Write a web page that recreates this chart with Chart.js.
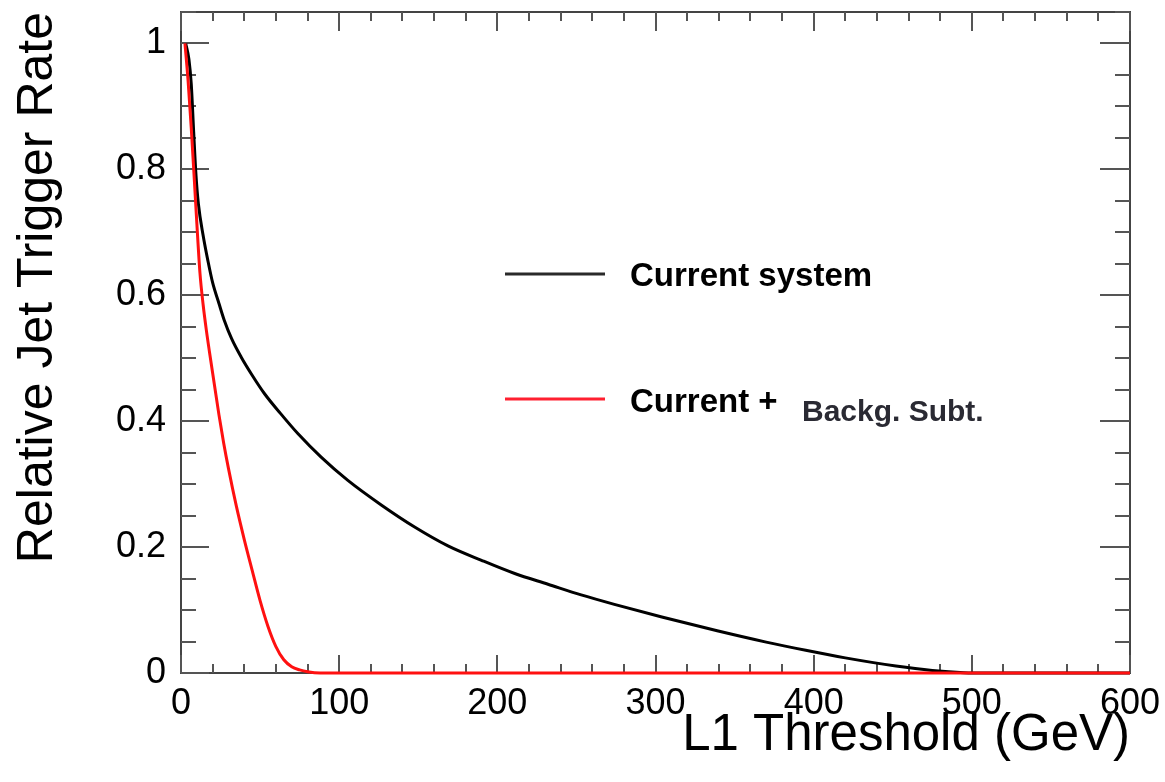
<!DOCTYPE html>
<html>
<head>
<meta charset="utf-8">
<script src="https://cdn.jsdelivr.net/npm/chart.js@4/dist/chart.umd.min.js"></script>
<style>
  html, body { margin: 0; padding: 0; background: #ffffff; }
  #wrap { width: 1165px; height: 782px; }
</style>
</head>
<body>
<div id="wrap"><canvas id="c" width="1165" height="782"></canvas></div>
<script>
// ---- data ----
const currentX = [3, 5, 6.5, 8, 9.5, 11, 14, 17, 20, 24, 27.4, 32, 38, 45, 52.7, 63, 74, 88.6, 105.5, 126.6, 147.7, 168.8, 190, 211, 232, 253, 274, 304, 339, 370, 395, 420, 452, 475, 495, 510, 600];
const currentY = [1.0, 0.975, 0.935, 0.86, 0.79, 0.745, 0.695, 0.655, 0.62, 0.587, 0.56, 0.531, 0.502, 0.473, 0.444, 0.412, 0.38, 0.343, 0.306, 0.267, 0.232, 0.202, 0.179, 0.158, 0.141, 0.124, 0.109, 0.089, 0.067, 0.049, 0.036, 0.024, 0.011, 0.004, 0.0005, 0, 0];
const bkgSubX = [2.5, 4.5, 6.5, 8.5, 10, 12, 14, 16, 18, 21, 24, 27, 30, 35, 40, 45, 50, 55, 60, 65, 70, 75, 80, 88, 600];
const bkgSubY = [1.0, 0.94, 0.865, 0.78, 0.715, 0.635, 0.585, 0.545, 0.51, 0.46, 0.41, 0.365, 0.325, 0.265, 0.212, 0.163, 0.115, 0.074, 0.042, 0.021, 0.01, 0.005, 0.002, 0, 0];
const xTickLabels = [0, 100, 200, 300, 400, 500, 600];
const yTickLabels = [0, 0.2, 0.4, 0.6, 0.8, 1];
const seriesNames = ['Current system', 'Current +', 'Backg. Subt.'];
const xTitle = 'L1 Threshold (GeV)';
const yTitle = 'Relative Jet Trigger Rate';

const FONT = '"Liberation Sans", Arial, Helvetica, sans-serif';

function pts(xs, ys) { return xs.map((x, i) => ({ x: x, y: ys[i] })); }

const framePlugin = {
  id: 'frameTicks',
  beforeDatasetsDraw(chart) {
    const { ctx, chartArea: a, scales } = chart;
    const sx = scales.x, sy = scales.y;
    ctx.save();
    ctx.strokeStyle = '#444444';
    ctx.lineWidth = 2;
    ctx.strokeRect(a.left, a.top, a.right - a.left, a.bottom - a.top);
    ctx.strokeStyle = '#555555';
    ctx.lineWidth = 2;
    for (let v = 0; v <= 600; v += 20) {
      const px = Math.round(sx.getPixelForValue(v));
      const major = (v % 100 === 0);
      const lb = major ? 18 : 9, lt = major ? 19 : 9;
      ctx.beginPath();
      ctx.moveTo(px, a.bottom); ctx.lineTo(px, a.bottom - lb);
      ctx.moveTo(px, a.top); ctx.lineTo(px, a.top + lt);
      ctx.stroke();
    }
    for (let k = 0; k <= 21; k++) {
      const v = k * 0.05;
      const py = Math.round(sy.getPixelForValue(v));
      const major = (k % 4 === 0);
      const ll = major ? 28 : 15, lr = major ? 30 : 15;
      ctx.beginPath();
      ctx.moveTo(a.left, py); ctx.lineTo(a.left + ll, py);
      ctx.moveTo(a.right, py); ctx.lineTo(a.right - lr, py);
      ctx.stroke();
    }
    ctx.restore();
  },
  afterDatasetsDraw(chart) {
    const { ctx } = chart;
    ctx.save();
    ctx.lineWidth = 3;
    ctx.strokeStyle = '#2a2a2a';
    ctx.beginPath(); ctx.moveTo(505, 274); ctx.lineTo(605, 274); ctx.stroke();
    ctx.strokeStyle = '#ff2030';
    ctx.beginPath(); ctx.moveTo(505, 399); ctx.lineTo(605, 399); ctx.stroke();
    ctx.fillStyle = '#000000';
    ctx.textBaseline = 'alphabetic';
    ctx.textAlign = 'left';
    ctx.font = 'bold 33px ' + FONT;
    ctx.fillText(seriesNames[0], 630, 286);
    ctx.fillText(seriesNames[1], 630, 412);
    ctx.fillStyle = '#2a2a33';
    ctx.font = 'bold 30px ' + FONT;
    ctx.fillText(seriesNames[2], 802, 421);
    ctx.restore();
  }
};

new Chart(document.getElementById('c'), {
  type: 'scatter',
  data: {
    datasets: [
      {
        label: seriesNames[0],
        data: pts(currentX, currentY),
        showLine: true,
        borderColor: '#000000',
        borderWidth: 3,
        pointRadius: 0,
        cubicInterpolationMode: 'monotone',
        clip: 6,
        order: 2
      },
      {
        label: seriesNames[1] + ' ' + seriesNames[2],
        data: pts(bkgSubX, bkgSubY),
        showLine: true,
        borderColor: '#ff1010',
        borderWidth: 3,
        pointRadius: 0,
        cubicInterpolationMode: 'monotone',
        clip: 6,
        order: 1
      }
    ]
  },
  options: {
    responsive: false,
    animation: false,
    devicePixelRatio: 1,
    layout: { padding: { top: 12, right: 35, left: 0, bottom: 0 } },
    plugins: { legend: { display: false }, tooltip: { enabled: false } },
    scales: {
      x: {
        type: 'linear',
        min: 0, max: 600,
        afterFit(s) { s.height = 109; s.paddingLeft = 0; s.paddingRight = 0; },
        grid: { display: false, drawTicks: false },
        border: { display: false },
        afterBuildTicks(s) { s.ticks = xTickLabels.map(v => ({ value: v })); },
        ticks: {
          padding: 9,
          color: '#000000',
          font: { family: FONT, size: 36 },
          maxRotation: 0,
          callback: (v) => String(v)
        },
        title: {
          display: true, text: xTitle, align: 'end',
          color: '#000000',
          font: { family: FONT, size: 51 },
          padding: { top: 0, bottom: 15 }
        }
      },
      y: {
        type: 'linear',
        min: 0, max: 1.05,
        afterFit(s) { s.width = 181; s.paddingTop = 0; s.paddingBottom = 0; },
        grid: { display: false, drawTicks: false },
        border: { display: false },
        afterBuildTicks(s) { s.ticks = yTickLabels.map(v => ({ value: v })); },
        ticks: {
          padding: 15,
          color: '#000000',
          font: { family: FONT, size: 36 },
          callback: (v) => String(Number(v.toFixed(2)))
        },
        title: {
          display: true, text: yTitle, align: 'end',
          color: '#000000',
          font: { family: FONT, size: 50 },
          padding: { top: 8, bottom: 0 }
        }
      }
    }
  },
  plugins: [framePlugin]
});
</script>
</body>
</html>
